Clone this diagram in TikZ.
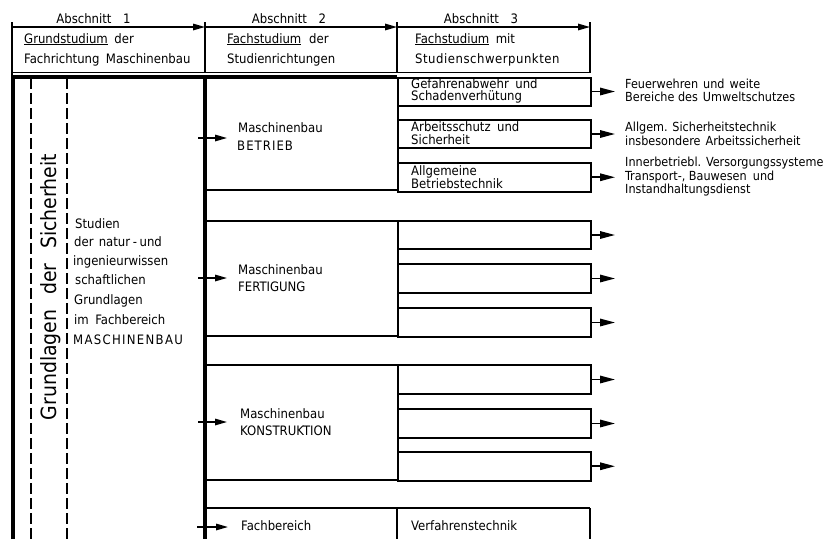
\documentclass[tikz,border=0pt]{standalone}
\usepackage{fontspec}
\setmainfont{DejaVu Sans Condensed}
\usetikzlibrary{arrows.meta}
\begin{document}
\begin{tikzpicture}[x=1pt,y=-1pt,
  heavy/.style={line width=3.4pt},
  medium/.style={line width=2pt},
  light/.style={line width=1.5pt},
  txt/.style={anchor=base west, inner sep=0pt, font=\fontsize{13}{15}\selectfont},
  ctxt/.style={anchor=base west, inner sep=0pt, font=\fontsize{13}{15}\selectfont},
  stxt/.style={anchor=base west, inner sep=0pt, font=\fontsize{12.5}{14}\selectfont},
  htxt/.style={anchor=base, inner sep=0pt, font=\fontsize{13}{15}\selectfont},
  hdarrow/.style={light, -{Triangle[length=12pt,width=6.5pt]}},
  inarrow/.style={light, -{Triangle[length=12pt,width=6.5pt]}},
  outarrow/.style={line width=1.6pt, -{Triangle[length=15pt,width=7.5pt]}},
  sbox/.style={draw, medium, rectangle, anchor=north west, minimum width=193pt, inner sep=0pt},
  cbox/.style={draw, medium, rectangle, anchor=north west, minimum width=192pt, inner sep=0pt},
  dashline/.style={line width=1.4pt, dash pattern=on 11pt off 4pt}
]
\useasboundingbox (0,0) rectangle (835,539);

% ---------- header ----------
\coordinate (h0) at (12,27);
\coordinate (h1) at (205,27);
\coordinate (h2) at (397,27);
\coordinate (h3) at (590,27);
\draw[hdarrow] (h0) -- (h1);
\draw[hdarrow] (h1) -- (h2);
\draw[hdarrow] (h2) -- (h3);
\draw[light] (12,22) -- (12,77);
\draw[light] (205,22) -- (205,72.5);
\draw[light] (397,22) -- (397,72.5);
\draw[light] (590,22) -- (590,72.5);
\draw[light] (12,72.5) -- (590,72.5);

\node[htxt] (a1) at (93.5,23) {Abschnitt\hspace{0.9em}1};
\node[htxt] (a2) at (289,23) {Abschnitt\hspace{0.9em}2};
\node[htxt] (a3) at (481,23) {Abschnitt\hspace{0.9em}3};

\node[txt] (t1a) at (24,43) {\underline{Grundstudium}\hspace{0.5em}der};
\node[txt] (t1b) at (24,63) {Fachrichtung\hspace{0.5em}Maschinenbau};
\node[txt] (t2a) at (227,43) {\underline{Fachstudium}\hspace{0.6em}der};
\node[txt] (t2b) at (227,63) {Studienrichtungen};
\node[txt] (t3a) at (415,43) {\underline{Fachstudium}\hspace{0.5em}mit};
\node[txt] (t3b) at (415,63) {\addfontfeature{LetterSpace=4}Studienschwerpunkten};

% ---------- column 2 boxes ----------
\node[cbox, minimum height=112pt] (bet) at (205,77) {};
\node[cbox, minimum height=115pt] (fer) at (205,220) {};
\node[cbox, minimum height=115pt] (kon) at (205,364) {};
\draw[medium] (205,508) -- (590,508);
\draw[medium] (397,508) -- (397,539);
\draw[medium] (590,508) -- (590,539);

% ---------- column 3 boxes ----------
\node[sbox, minimum height=28pt] (b1) at (397,76.5) {};
\node[sbox, minimum height=28pt] (b2) at (397,119) {};
\node[sbox, minimum height=28.5pt] (b3) at (397,162) {};
\node[sbox, minimum height=28pt] (f1) at (397,220) {};
\node[sbox, minimum height=29pt] (f2) at (397,263) {};
\node[sbox, minimum height=29pt] (f3) at (397,307) {};
\node[sbox, minimum height=29pt] (k1) at (397,364) {};
\node[sbox, minimum height=29pt] (k2) at (397,408) {};
\node[sbox, minimum height=28.5pt] (k3) at (397,451) {};

% ---------- left column ----------
\draw[heavy] (13,539) -- (13,77) -- (397,77);
\draw[heavy] (205,77) -- (205,539);
\draw[dashline] (31,78) -- (31,539);
\draw[dashline] (67,78) -- (67,539);

\node[anchor=base, inner sep=0pt, rotate=90, font=\fontsize{21}{24}\selectfont] (gs) at (56,287)
  {Grundlagen\hspace{0.7em}der\hspace{0.7em}Sicherheit};

\node[txt] (s1) at (75,228) {Studien};
\node[txt] (s2) at (74,246) {der\hspace{0.4em}natur\hspace{0.2em}-\hspace{0.2em}und};
\node[txt] (s3) at (73,265) {ingenieurwissen};
\node[txt] (s4) at (75,284) {schaftlichen};
\node[txt] (s5) at (74,304) {Grundlagen};
\node[txt] (s6) at (74,324) {im\hspace{0.5em}Fachbereich};
\node[txt] (s7) at (73,344) {\addfontfeature{LetterSpace=10}MASCHINENBAU};

% ---------- column 2 texts and arrows ----------
\node[txt] (bt1) at (238,132) {Maschinenbau};
\node[txt] (bt2) at (237,150) {\addfontfeature{LetterSpace=8}BETRIEB};
\node[txt] (ft1) at (238,274) {Maschinenbau};
\node[txt] (ft2) at (238,291) {FERTIGUNG};
\node[txt] (kt1) at (240,418) {Maschinenbau};
\node[txt] (kt2) at (240,435) {KONSTRUKTION};
\node[txt] (fb) at (241,530) {Fachbereich};

\coordinate (inB) at (198,138);
\coordinate (inF) at (198,278);
\coordinate (inK) at (198,422);
\coordinate (inV) at (197,527);
\draw[inarrow] (inB) -- ++(29,0);
\draw[inarrow] (inF) -- ++(29,0);
\draw[inarrow] (inK) -- ++(29,0);
\draw[inarrow] (inV) -- ++(31,0);

% ---------- column 3 texts ----------
\node[ctxt] (b1a) at (411,88) {Gefahrenabwehr\hspace{0.5em}und};
\node[ctxt] (b1b) at (411,100) {Schadenverhütung};
\node[ctxt] (b2a) at (411,131) {Arbeitsschutz\hspace{0.5em}und};
\node[ctxt] (b2b) at (411,144) {Sicherheit};
\node[ctxt] (b3a) at (411,175) {Allgemeine};
\node[ctxt] (b3b) at (411,188) {Betriebstechnik};
\node[txt] (vt) at (411,530) {Verfahrenstechnik};

% ---------- outgoing arrows ----------
\foreach \b in {b1,b2,b3,f1,f2,f3,k1,k2,k3}
  \draw[outarrow] (\b.east) -- ++(23,0);

% ---------- right texts ----------
\node[stxt] (r1a) at (625,88) {Feuerwehren\hspace{0.4em}und\hspace{0.4em}weite};
\node[stxt] (r1b) at (625,101) {Bereiche des\hspace{0.4em}Umweltschutzes};
\node[stxt] (r2a) at (625,131) {Allgem. Sicherheitstechnik};
\node[stxt] (r2b) at (625,145) {insbesondere\hspace{0.4em}Arbeitssicherheit};
\node[stxt] (r3a) at (625,166) {Innerbetriebl. Versorgungssysteme};
\node[stxt] (r3b) at (625,180) {Transport-, Bauwesen\hspace{0.5em}und};
\node[stxt] (r3c) at (625,193) {Instandhaltungsdienst};
\end{tikzpicture}
\end{document}
